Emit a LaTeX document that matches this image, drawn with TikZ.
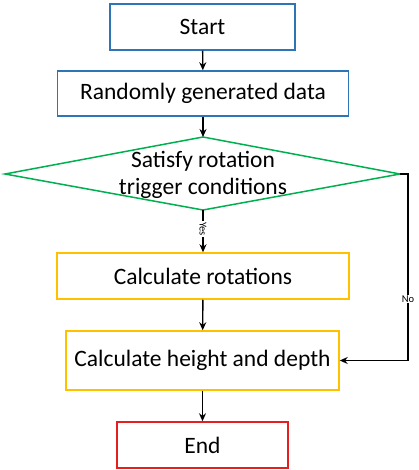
\documentclass[tikz,border=0pt]{standalone}
\usepackage{fontspec}
\setmainfont{Carlito}
\usetikzlibrary{arrows.meta}
\definecolor{cblue}{RGB}{46,117,182}
\definecolor{cgreen}{RGB}{0,176,80}
\definecolor{cyellow}{RGB}{255,192,0}
\definecolor{cred}{RGB}{230,30,30}
\tikzset{
  box/.style={draw, line width=1.5pt, inner sep=0pt, font=\fontsize{23.5}{27}\selectfont},
  arr/.style={line width=1.4pt, -{Stealth[length=8pt,width=7pt]}},
  lbl/.style={fill=white, inner sep=1pt, font=\fontsize{10.5}{11}\selectfont}
}
\begin{document}
\begin{tikzpicture}[x=1pt,y=-1pt]
\useasboundingbox (0,0) rectangle (418,470);
\node[box, draw=cblue, minimum width=185pt, minimum height=46pt] (start) at (202.5,27) {Start};
\node[box, draw=cblue, minimum width=291pt, minimum height=45pt] (rand) at (203,93.5) {Randomly generated data};
\coordinate (dtop) at (203,137);
\coordinate (dright) at (400,174);
\coordinate (dbot) at (203,210);
\coordinate (dleft) at (5,174);
\draw[cgreen, line width=1.5pt] (dtop) -- (dright) -- (dbot) -- (dleft) -- cycle;
\node[align=center, font=\fontsize{23.5}{27}\selectfont] (cond) at (203,175) {Satisfy rotation\\trigger conditions};
\node[box, draw=cyellow, minimum width=292pt, minimum height=46pt] (rot) at (203,276) {Calculate rotations};
\node[box, draw=cyellow, minimum width=273pt, minimum height=59pt] (hd) at (202.5,360.5) {Calculate height and depth};
\node[box, draw=cred, minimum width=171pt, minimum height=46pt] (end) at (202.5,445) {End};
\coordinate (rc) at (408,174);
\draw[arr] (start) -- (rand);
\draw[arr] (rand) -- (dtop);
\draw[arr] (dbot) -- node[lbl, rotate=-90, pos=0.45] (yes) {Yes} (rot);
\draw[arr] (rot) -- (hd);
\draw[arr] (hd) -- (end);
\draw[arr] (dright) -- (rc) -- node[lbl, pos=0.67] (no) {No} (rc |- hd.east) -- (hd.east);
\end{tikzpicture}
\end{document}
